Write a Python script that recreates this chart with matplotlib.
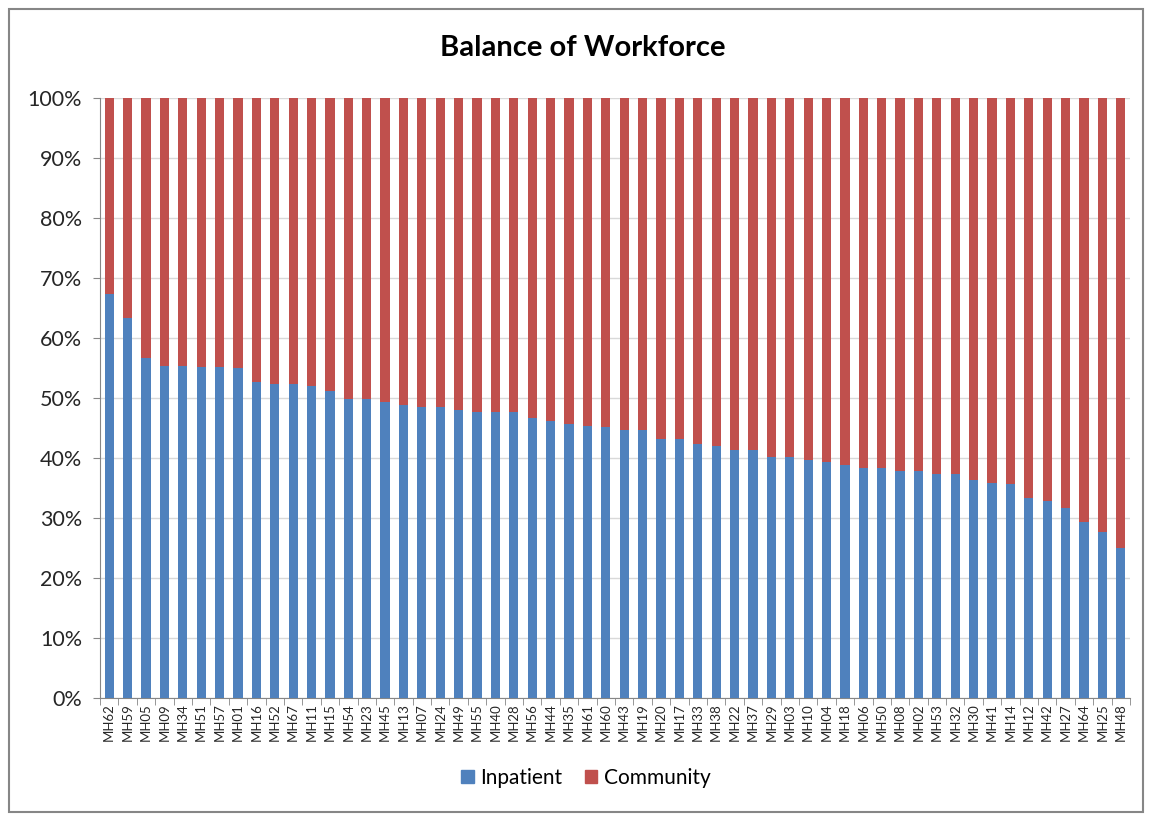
import matplotlib.pyplot as plt
import matplotlib.patches as mpatches
import numpy as np

plt.rcParams['font.family'] = ['Lato', 'DejaVu Sans']

# Share of workforce that is inpatient, per provider (%)
providers = ["MH62", "MH59", "MH05", "MH09", "MH34", "MH51", "MH57", "MH01",
             "MH16", "MH52", "MH67", "MH11", "MH15", "MH54", "MH23", "MH45",
             "MH13", "MH07", "MH24", "MH49", "MH55", "MH40", "MH28", "MH56",
             "MH44", "MH35", "MH61", "MH60", "MH43", "MH19", "MH20", "MH17",
             "MH33", "MH38", "MH22", "MH37", "MH29", "MH03", "MH10", "MH04",
             "MH18", "MH06", "MH50", "MH08", "MH02", "MH53", "MH32", "MH30",
             "MH41", "MH14", "MH12", "MH42", "MH27", "MH64", "MH25", "MH48"]
inpatient = [67.4, 63.3, 56.7, 55.4, 55.4, 55.2, 55.2, 55.0,
             52.7, 52.3, 52.3, 52.0, 51.2, 49.8, 49.8, 49.4,
             48.9, 48.5, 48.5, 48.0, 47.6, 47.6, 47.6, 46.7,
             46.2, 45.7, 45.3, 45.1, 44.7, 44.7, 43.2, 43.2,
             42.4, 42.05, 41.3, 41.3, 40.2, 40.2, 39.7, 39.4,
             38.8, 38.4, 38.4, 37.9, 37.9, 37.4, 37.4, 36.4,
             35.8, 35.7, 33.4, 32.8, 31.7, 29.4, 27.7, 25.05]
community = [100 - v for v in inpatient]

blue = "#4F81BD"
red = "#C0504D"

fig = plt.figure(figsize=(11.53, 8.15), dpi=100)
ax = fig.add_axes([100 / 1153, 117 / 815, 1030 / 1153, 600 / 815])

x = np.arange(len(providers))
ax.bar(x, inpatient, width=0.5, color=blue, zorder=3)
ax.bar(x, community, width=0.5, bottom=inpatient, color=red, zorder=3)

ax.set_xlim(-0.5, len(providers) - 0.5)
ax.set_ylim(0, 100)
ax.set_yticks(range(0, 101, 10))
ax.set_yticklabels([f"{v}%" for v in range(0, 101, 10)], fontsize=15.5, color="#262626")
ax.grid(axis="y", color="#d9d9d9", linewidth=1, zorder=0)

ax.set_xticks(x)
ax.set_xticklabels(providers, rotation=90, fontsize=9.5, color="#262626")
ax.set_xticks(np.arange(-0.5, len(providers)), minor=True)
ax.tick_params(axis="x", which="major", length=0, pad=4)
ax.tick_params(axis="x", which="minor", length=5, color="#868686")
ax.tick_params(axis="y", length=5, color="#868686", pad=8)

for side in ["top", "right"]:
    ax.spines[side].set_visible(False)
for side in ["left", "bottom"]:
    ax.spines[side].set_color("#868686")

fig.text(0.505, 1 - 48 / 815, "Balance of Workforce", ha="center", va="center",
         fontsize=21, fontweight="bold", color="black")

handles = [mpatches.Patch(color=blue, label="Inpatient"),
           mpatches.Patch(color=red, label="Community")]
fig.legend(handles=handles, loc="center", bbox_to_anchor=(0.508, 1 - 778 / 815),
           ncol=2, frameon=False, fontsize=15, handlelength=0.6, handleheight=0.6,
           handletextpad=0.3, columnspacing=1.1)

# outer chart frame
fig.patches.append(mpatches.Rectangle((9 / 1153, 3 / 815), 1134 / 1153, 803 / 815,
                                      transform=fig.transFigure, fill=False,
                                      edgecolor="#868686", linewidth=1.5))

fig.savefig("out.png", dpi=100)
